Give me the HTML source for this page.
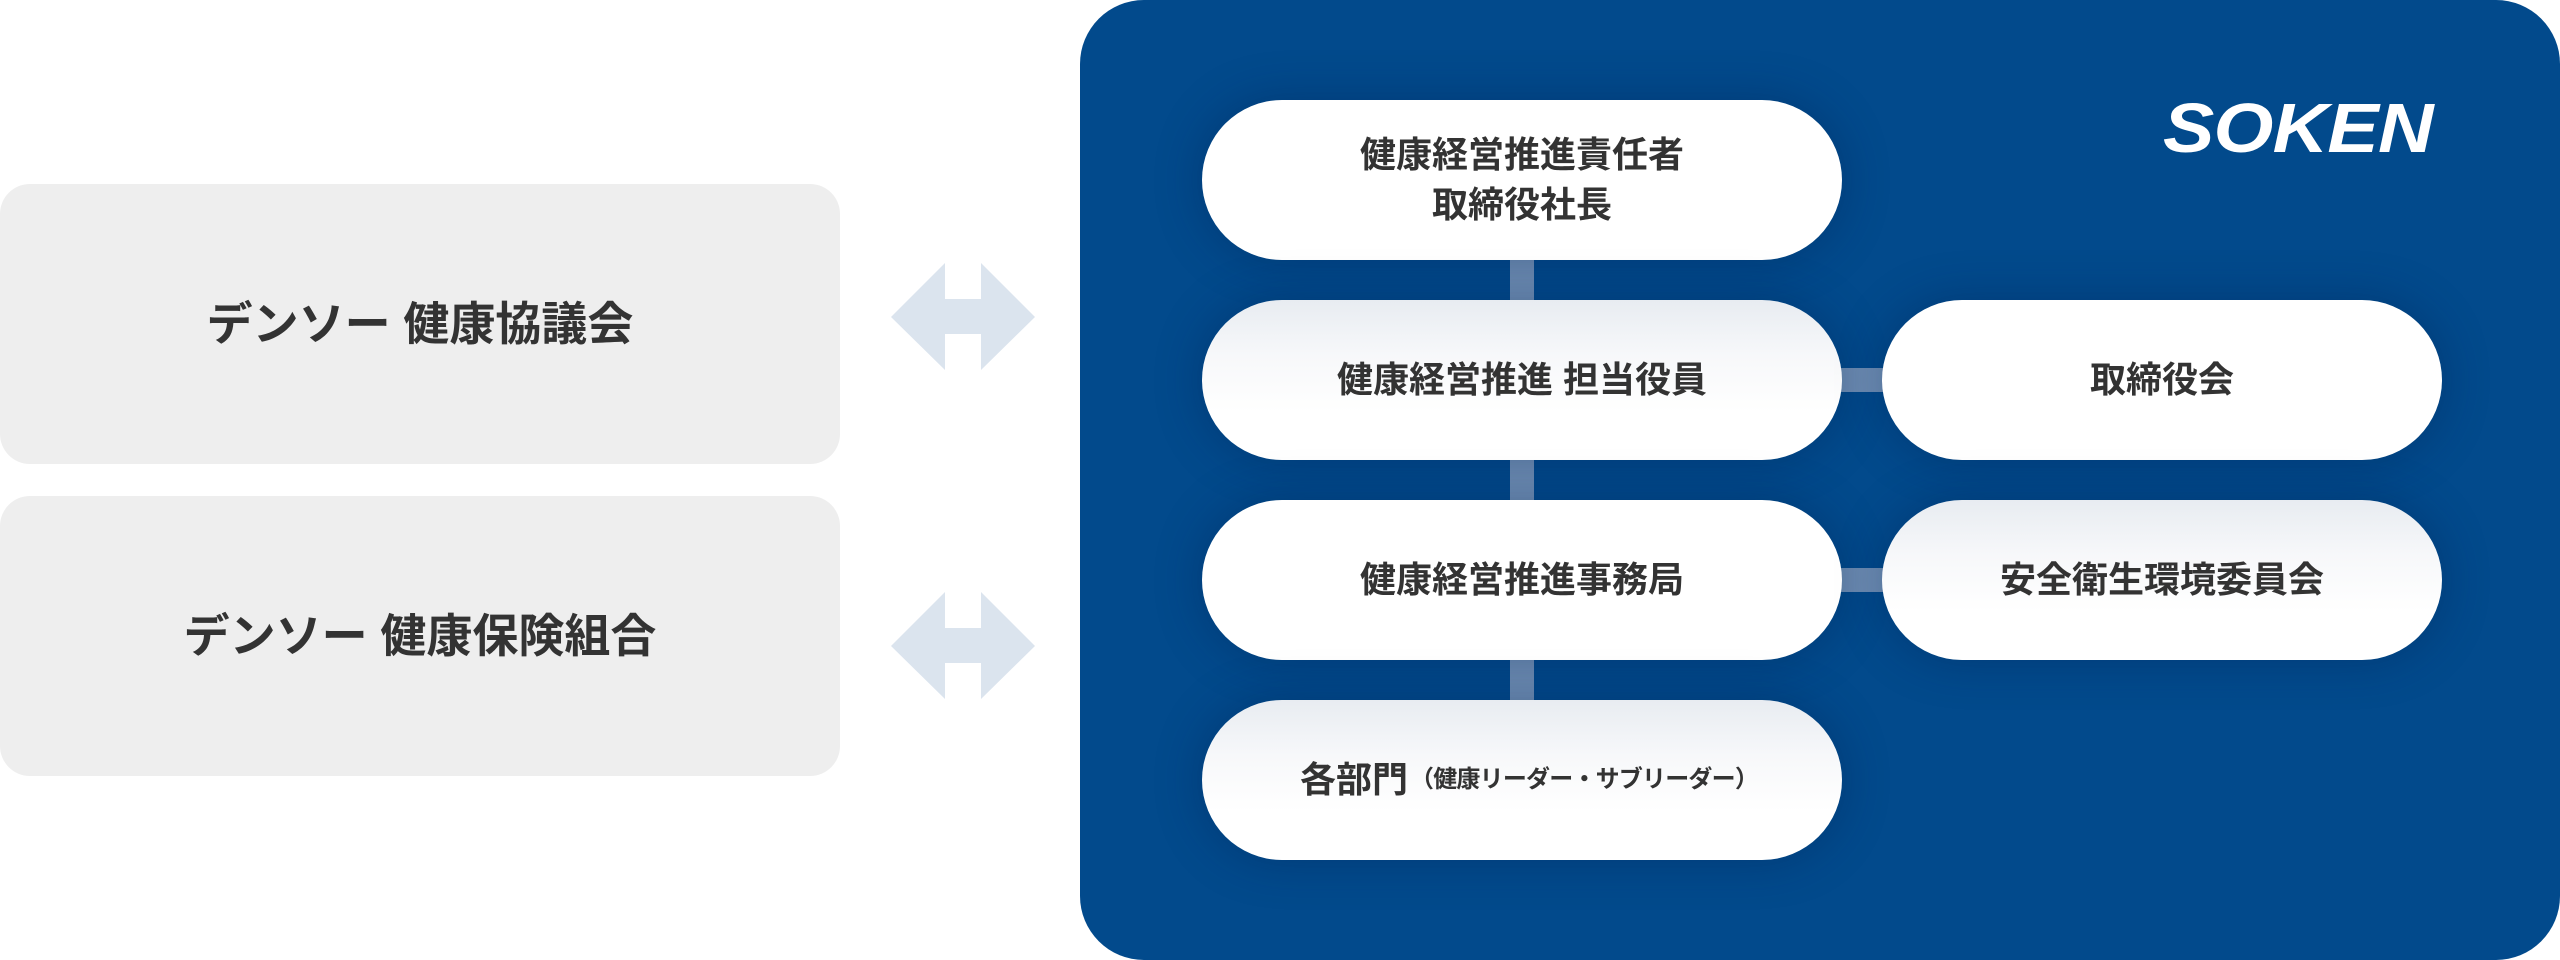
<!DOCTYPE html>
<html lang="ja">
<head>
<meta charset="utf-8">
<style>
  html,body{margin:0;padding:0;}
  body{width:2560px;height:960px;position:relative;overflow:hidden;background:#fff;
    font-family:"Liberation Sans","Noto Sans CJK JP",sans-serif;font-weight:700;color:#333;}
  .lbox{position:absolute;left:0;width:840px;height:280px;background:#eeeeee;border-radius:30px;
    display:flex;align-items:center;justify-content:center;font-size:46px;line-height:1;}
  .panel{position:absolute;left:1080px;top:0;width:1480px;height:960px;border-radius:64px;
    background:#024a8c;overflow:hidden;}
  .conn{position:absolute;background:#7090b6;}
  .pill{position:absolute;height:160px;border-radius:80px;background:#fff;
    display:flex;align-items:center;justify-content:center;text-align:center;
    font-size:36px;line-height:50px;box-shadow:0 0 46px rgba(0,30,75,0.35);}
  .grad{background:linear-gradient(to bottom,#e8ecf1 0%,#f7f8fa 35%,#ffffff 70%,#ffffff 100%);}
  .small{font-size:24px;letter-spacing:-0.8px;margin-left:2px;}
  .logo{position:absolute;left:2152px;top:84px;width:300px;height:80px;}
</style>
</head>
<body>

<div class="lbox" style="top:184px;">デンソー 健康協議会</div>
<div class="lbox" style="top:496px;">デンソー 健康保険組合</div>

<svg style="position:absolute;left:0;top:0" width="1080" height="960">
  <polygon fill="#dbe4ee" points="891,317 945,263 945,299 981,299 981,263 1035,317 981,370 981,334 945,334 945,370"/>
  <polygon fill="#dbe4ee" points="891,646 945,592 945,628 981,628 981,592 1035,646 981,699 981,663 945,663 945,699"/>
</svg>

<div class="panel"></div>

<!-- connectors -->
<div class="conn" style="left:1510px;top:250px;width:24px;height:460px;"></div>
<div class="conn" style="left:1830px;top:368px;width:64px;height:24px;"></div>
<div class="conn" style="left:1830px;top:568px;width:64px;height:24px;"></div>

<!-- pills -->
<div class="pill" style="left:1202px;top:100px;width:640px;">健康経営推進責任者<br>取締役社長</div>
<div class="pill grad" style="left:1202px;top:300px;width:640px;">健康経営推進 担当役員</div>
<div class="pill" style="left:1202px;top:500px;width:640px;">健康経営推進事務局</div>
<div class="pill grad" style="left:1202px;top:700px;width:640px;justify-content:flex-start;padding-left:98px;box-sizing:border-box;"><span>各部門</span><span class="small">（健康リーダー・サブリーダー）</span></div>

<div class="pill" style="left:1882px;top:300px;width:560px;">取締役会</div>
<div class="pill grad" style="left:1882px;top:500px;width:560px;">安全衛生環境委員会</div>

<svg class="logo" width="300" height="80" viewBox="0 0 300 80">
  <g transform="scale(1.1,1)">
    <text x="10" y="68" fill="#ffffff" font-family="Liberation Sans, sans-serif" font-weight="700" font-style="italic" font-size="70" textLength="246" lengthAdjust="spacing">SOKEN</text>
  </g>
</svg>

</body>
</html>
